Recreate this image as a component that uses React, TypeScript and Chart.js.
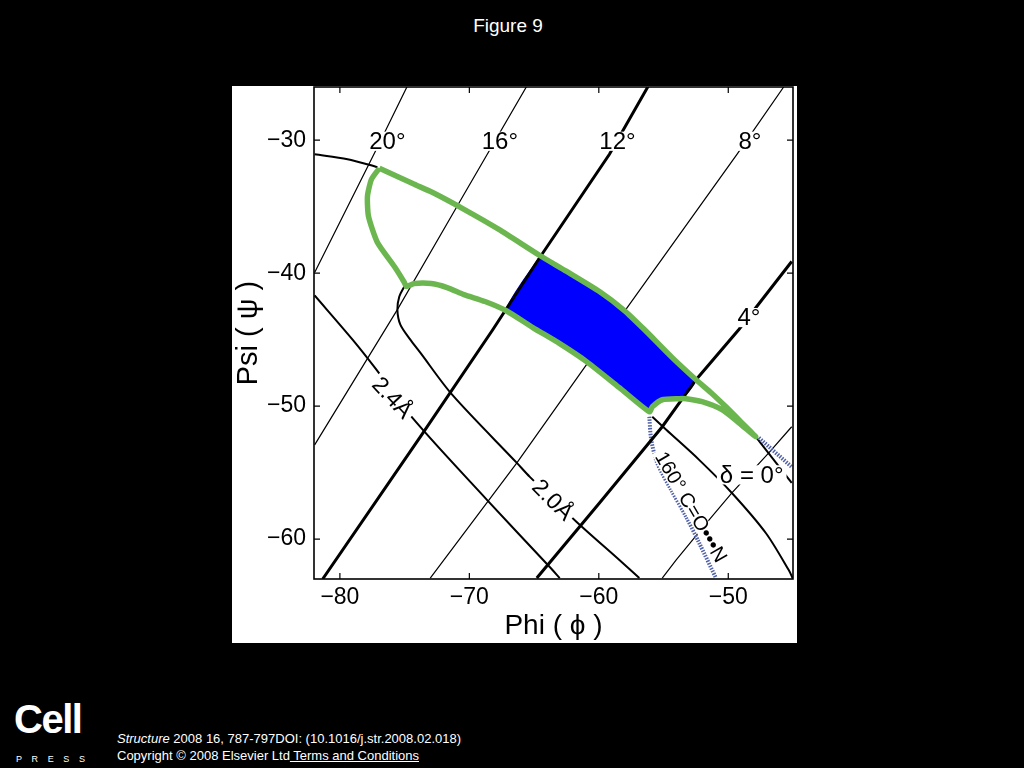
import React, { useEffect, useRef } from 'react';
import { Chart, registerables } from 'chart.js';

Chart.register(...registerables);

const FONT = '"Liberation Sans", Arial, Helvetica, sans-serif';

// Axes
const PHI_MIN = -82;
const PHI_MAX = -45;
const PSI_MIN = -63;
const PSI_MAX = -26;
const PHI_TICKS = [-80, -70, -60, -50];
const PSI_TICKS = [-60, -50, -40, -30];

// Constant delta (angle) lines: [phi, psi]
const delta20 = [[-74.79, -25.93], [-77.18, -30.68], [-81.95, -39.95]];
const delta16 = [[-65.56, -25.93], [-70.41, -34.07], [-75.56, -42.74], [-81.95, -52.91]];
const delta12 = [[-56.18, -25.93], [-59.18, -31.06], [-64.56, -38.82], [-68.18, -44.24], [-73.79, -52.31], [-81.33, -63.0]];
const delta8 = [[-45.72, -26.0], [-49.33, -31.06], [-58.03, -42.89], [-60.95, -46.88], [-66.33, -54.27], [-73.02, -62.93]];
const delta4 = [[-45.1, -39.12], [-49.18, -44.24], [-52.49, -48.01], [-55.1, -51.55], [-59.95, -57.28], [-64.79, -62.93]];
const delta0 = [[-45.1, -51.55], [-46.87, -53.51], [-49.72, -56.53], [-51.48, -58.56], [-54.02, -61.57], [-55.1, -62.93]];

// Distance contours
const dist24 = [[-81.95, -41.68], [-79.02, -45.0], [-77.18, -47.26], [-74.41, -50.87], [-68.64, -57.05], [-63.79, -62.1], [-63.02, -62.93]];
const dist20 = [[-75.02, -41.0], [-75.41, -41.76], [-75.56, -42.74], [-75.33, -43.87], [-74.56, -45.0], [-73.79, -45.98], [-71.33, -49.14], [-66.33, -54.27], [-65.33, -55.32], [-61.71, -58.71], [-58.41, -61.57], [-56.87, -62.93]];
const distInner = [[-55.87, -50.8], [-54.79, -51.78], [-52.25, -54.04], [-49.72, -56.53], [-47.1, -59.54], [-45.33, -62.33], [-45.0, -63.0]];
const distOuter = [[-81.95, -31.06], [-79.41, -31.43], [-77.1, -32.03]];
const distOuterTail = [[-47.87, -52.31], [-45.1, -55.77]];

// 160 deg C=O...N contour (dotted)
const hbondA = [[-56.1, -50.8], [-55.95, -52.53], [-55.49, -54.27], [-54.41, -56.3], [-53.25, -58.33], [-52.25, -60.29], [-50.95, -62.93]];
const hbondB = [[-47.64, -52.38], [-45.1, -54.57]];

// Allowed region outline (green)
const regionOutline = [
  [-76.95, -32.11], [-74.25, -33.32], [-72.87, -33.92], [-70.41, -35.2], [-67.72, -36.71], [-64.56, -38.67],
  [-62.48, -39.87], [-59.95, -41.38], [-58.02, -42.81], [-56.48, -44.24], [-54.33, -46.35], [-52.49, -48.01],
  [-51.33, -48.99], [-50.18, -50.05], [-49.02, -51.18], [-47.87, -52.31],
  [-49.18, -51.25], [-50.49, -50.27], [-52.02, -49.67], [-53.25, -49.44], [-53.79, -49.44], [-55.1, -49.52],
  [-55.87, -50.05], [-56.1, -50.42],
  [-58.41, -48.61], [-60.95, -46.65], [-63.02, -45.3], [-65.1, -44.09], [-67.18, -42.81], [-68.79, -42.13],
  [-70.41, -41.61], [-71.72, -41.08], [-72.95, -40.78], [-74.25, -40.78], [-74.87, -41.0],
  [-75.02, -40.7], [-75.79, -39.5], [-77.1, -37.69], [-77.79, -35.73], [-77.87, -34.22], [-77.56, -32.94],
  [-76.95, -32.11],
];

// Filled (blue) sub-region
const regionFilled = [
  [-64.56, -38.67], [-62.48, -39.87], [-59.95, -41.38], [-58.02, -42.81], [-56.48, -44.24], [-54.33, -46.35],
  [-52.49, -48.01], [-53.56, -49.44], [-55.1, -49.52], [-55.87, -50.05], [-56.1, -50.42], [-58.41, -48.61],
  [-60.95, -46.65], [-63.02, -45.3], [-65.1, -44.09], [-67.18, -42.81], [-64.56, -38.67],
];

// In-plot labels
const LABEL_TEXT = ['20°', '16°', '12°', '8°', '4°', 'δ = 0°', '2.4Å', '2.0Å', '160° C=O•••N'];
const LABEL_PHI = [-76.33, -67.64, -58.56, -48.33, -48.41, -48.19, -75.95, -63.56, -52.87];
const LABEL_PSI = [-30.08, -30.08, -30.08, -30.08, -43.34, -55.17, -49.37, -57.05, -57.58];
const LABEL_ANGLE = [0, 0, 0, 0, 0, 0, 47, 45, 60];
const LABEL_SIZE = [24, 24, 24, 24, 24, 24, 23, 23, 20];

const toPts = (arr: number[][]) => arr.map(([x, y]) => ({ x, y }));
const minus = (v: number) => String(v).replace('-', '\u2212');

const decorPlugin = {
  id: 'decor',
  afterDatasetsDraw(chart: any) {
    const { ctx } = chart;
    const xs = chart.scales.x;
    const ys = chart.scales.y;
    LABEL_TEXT.forEach((text, i) => {
      const px = xs.getPixelForValue(LABEL_PHI[i]);
      const py = ys.getPixelForValue(LABEL_PSI[i]);
      const size = LABEL_SIZE[i];
      ctx.save();
      ctx.translate(px, py);
      ctx.rotate((LABEL_ANGLE[i] * Math.PI) / 180);
      ctx.font = `${size}px ${FONT}`;
      const w = ctx.measureText(text).width;
      const h = size * 0.8;
      ctx.fillStyle = '#fff';
      ctx.fillRect(-w / 2 - 3, -h / 2, w + 6, h);
      ctx.fillStyle = '#000';
      ctx.textAlign = 'center';
      ctx.textBaseline = 'middle';
      ctx.fillText(text, 0, 1);
      ctx.restore();
    });
  },
  afterDraw(chart: any) {
    const { ctx, chartArea: a } = chart;
    const xs = chart.scales.x;
    const ys = chart.scales.y;
    ctx.save();
    ctx.strokeStyle = '#000';
    ctx.lineWidth = 1.6;
    ctx.strokeRect(a.left, a.top, a.right - a.left, a.bottom - a.top);
    ctx.lineWidth = 1.2;
    ctx.beginPath();
    PHI_TICKS.forEach((v) => {
      const p = xs.getPixelForValue(v);
      ctx.moveTo(p, a.bottom);
      ctx.lineTo(p, a.bottom - 6);
      ctx.moveTo(p, a.top);
      ctx.lineTo(p, a.top + 6);
    });
    PSI_TICKS.forEach((v) => {
      const p = ys.getPixelForValue(v);
      ctx.moveTo(a.left, p);
      ctx.lineTo(a.left + 6, p);
      ctx.moveTo(a.right, p);
      ctx.lineTo(a.right - 6, p);
    });
    ctx.stroke();
    ctx.restore();
  },
};

function PlotChart() {
  const ref = useRef<HTMLCanvasElement | null>(null);
  useEffect(() => {
    if (!ref.current) return;
    const line = (arr: number[][], opts: any) => ({
      data: toPts(arr),
      showLine: true,
      pointRadius: 0,
      pointHoverRadius: 0,
      borderColor: '#000',
      backgroundColor: 'transparent',
      fill: false,
      ...opts,
    });
    const GREEN = '#6cb650';
    const DOT = '#5262a8';
    const datasets = [
      line(regionOutline, { borderColor: GREEN, borderWidth: 5.5, tension: 0.2, order: 0, borderJoinStyle: 'round' }),
      line(delta12, { borderWidth: 3, order: 1 }),
      line(delta4, { borderWidth: 3, order: 1 }),
      line(regionFilled, { borderWidth: 0, borderColor: '#0000ff', backgroundColor: '#0000ff', fill: 'shape', tension: 0.2, order: 2 }),
      line(hbondA, { borderColor: DOT, borderWidth: 4, borderDash: [1.5, 1.3], tension: 0.3, order: 3 }),
      line(hbondB, { borderColor: DOT, borderWidth: 4, borderDash: [1.5, 1.3], order: 3 }),
      line(dist24, { borderWidth: 2, tension: 0.3, order: 4 }),
      line(dist20, { borderWidth: 2, tension: 0.3, order: 4 }),
      line(distInner, { borderWidth: 2, tension: 0.3, order: 4 }),
      line(distOuter, { borderWidth: 2, tension: 0.3, order: 4 }),
      line(distOuterTail, { borderWidth: 2, order: 4 }),
      line(delta20, { borderWidth: 1.2, order: 5 }),
      line(delta16, { borderWidth: 1.2, order: 5 }),
      line(delta8, { borderWidth: 1.2, order: 5 }),
      line(delta0, { borderWidth: 1.2, order: 5 }),
    ];
    const tickFont = { family: FONT, size: 23 };
    const chart = new Chart(ref.current, {
      type: 'scatter',
      data: { datasets },
      options: {
        animation: false,
        responsive: false,
        events: [],
        layout: { padding: { top: 1, right: 4, left: 0, bottom: 0 } },
        plugins: { legend: { display: false }, tooltip: { enabled: false } },
        scales: {
          x: {
            type: 'linear',
            min: PHI_MIN,
            max: PHI_MAX,
            afterBuildTicks: (s: any) => {
              s.ticks = PHI_TICKS.map((v) => ({ value: v }));
            },
            afterFit: (s: any) => {
              s.height = 64;
              s.paddingLeft = 0;
              s.paddingRight = 0;
            },
            grid: { display: false, drawTicks: false },
            border: { display: false },
            ticks: { padding: 5, color: '#000', font: tickFont, callback: (v: any) => minus(v) },
            title: { display: true, text: 'Phi ( ϕ )', color: '#000', font: { family: FONT, size: 28 }, padding: 0 },
          },
          y: {
            type: 'linear',
            min: PSI_MIN,
            max: PSI_MAX,
            afterBuildTicks: (s: any) => {
              s.ticks = PSI_TICKS.map((v) => ({ value: v }));
            },
            afterFit: (s: any) => {
              s.width = 82;
              s.paddingTop = 0;
              s.paddingBottom = 0;
            },
            grid: { display: false, drawTicks: false },
            border: { display: false },
            ticks: { padding: 8, color: '#000', font: tickFont, callback: (v: any) => minus(v) },
            title: { display: true, text: 'Psi ( ψ )', color: '#000', font: { family: FONT, size: 29 }, padding: 0 },
          },
        },
      },
      plugins: [decorPlugin],
    } as any);
    return () => chart.destroy();
  }, []);
  return <canvas ref={ref} width={565} height={557} style={{ display: 'block' }} />;
}

export default function App() {
  return (
    <div
      style={{
        position: 'fixed',
        left: 0,
        top: 0,
        width: 1024,
        height: 768,
        background: '#000',
        overflow: 'hidden',
        fontFamily: FONT,
      }}
    >
      <div
        style={{
          position: 'absolute',
          left: 0,
          top: 15,
          width: 1016,
          textAlign: 'center',
          color: '#fff',
          fontSize: 19,
          lineHeight: '22px',
        }}
      >
        Figure 9
      </div>
      <div style={{ position: 'absolute', left: 232, top: 86, width: 565, height: 557, background: '#fff' }}>
        <PlotChart />
      </div>
      <div
        style={{
          position: 'absolute',
          left: 14,
          top: 699,
          color: '#fff',
          fontSize: 40,
          fontWeight: 'bold',
          lineHeight: '40px',
          letterSpacing: '-1.5px',
        }}
      >
        Cell
      </div>
      <div
        style={{
          position: 'absolute',
          left: 16,
          top: 754,
          color: '#fff',
          fontSize: 9,
          lineHeight: '10px',
          letterSpacing: '9.6px',
        }}
      >
        PRESS
      </div>
      <div
        style={{
          position: 'absolute',
          left: 117,
          top: 730,
          color: '#fff',
          fontSize: 13,
          lineHeight: '17px',
          whiteSpace: 'nowrap',
        }}
      >
        <div>
          <i>Structure</i> 2008 16, 787-797DOI: (10.1016/j.str.2008.02.018)
        </div>
        <div>
          Copyright © 2008 Elsevier Ltd<span style={{ textDecoration: 'underline' }}> Terms and Conditions</span>
        </div>
      </div>
    </div>
  );
}
